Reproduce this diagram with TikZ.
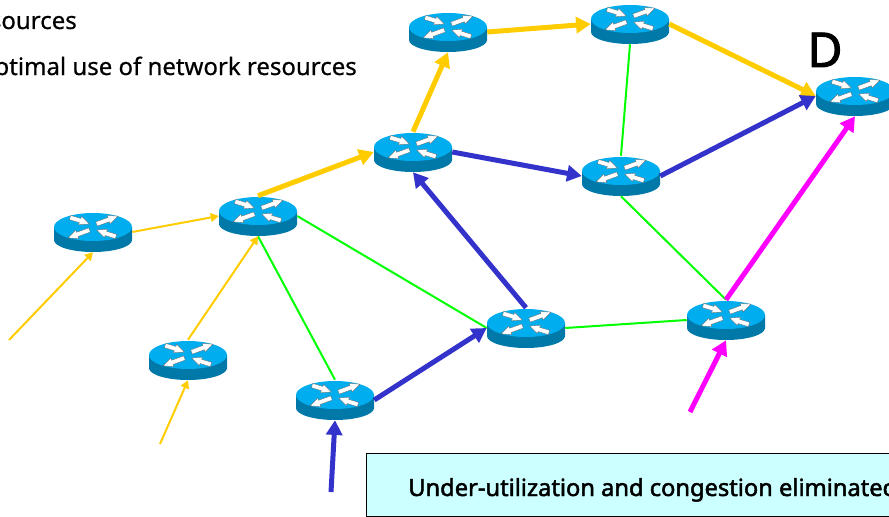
\documentclass[tikz,border=0pt]{standalone}
\usepackage{fontspec}
\setmainfont{Noto Sans}
\newfontfamily\plainfont[FakeBold=0.6]{Noto Sans}
\newfontfamily\boldfont[FakeBold=2]{Noto Sans}
\usetikzlibrary{arrows.meta}

\tikzset{
  router/.style={minimum width=58.5pt, minimum height=30pt, inner sep=0pt},
  thinflow/.style={line width=1.5pt, -{Triangle[length=6pt,width=6.5pt]}},
  thickflow/.style={line width=3.75pt, -{Triangle[length=11pt,width=12pt]}},
  link/.style={green, line width=1.5pt},
  routerarrow/.style={fill=white, draw=black!60, line width=0.25pt},
  routerpic/.pic={
    % body first, the lid goes on top
    \fill[routerside] (-39,-5) -- (-39,8) arc[start angle=180, end angle=0, x radius=39, y radius=12] -- (39,-5) -- cycle;
    \fill[routertop] (0,-5) ellipse[x radius=39, y radius=14];
    % two arrows point out, two point in
    \foreach \sx/\sy in {1/-1,-1/1} {
      \path[routerarrow, shift={(0,-5)}, xscale=\sx, yscale=\sy] (4.25,0.9) -- (16.45,5.3) -- (17.2,3.2) -- (25,10.8) -- (14.2,11.6) -- (14.95,9.5) -- (2.75,5.1) -- cycle;
    }
    \foreach \sx/\sy in {1/1,-1/-1} {
      \path[routerarrow, shift={(0,-5)}, xscale=\sx, yscale=\sy] (3.5,3) -- (14.4,2.2) -- (13.65,4.3) -- (23.75,7.4) -- (22.25,11.6) -- (12.15,8.5) -- (11.4,10.6) -- cycle;
    }
  }
}
\definecolor{routertop}{RGB}{0,174,239}
\definecolor{routerside}{RGB}{0,121,168}
\definecolor{flowyellow}{RGB}{255,204,0}
\definecolor{flowblue}{RGB}{51,51,204}
\definecolor{flowpink}{RGB}{255,0,255}
\definecolor{boxfill}{RGB}{204,255,255}

\begin{document}
\begin{tikzpicture}[x=0.75pt, y=-0.75pt]

\useasboundingbox (0,0) rectangle (889,517);
\clip (0,0) rectangle (889,517);

\foreach \name/\pos in {a/{93,232}, b/{258,216}, c/{188,360}, e/{335,400}, f/{413,152},
    g/{448,32}, h/{630,24}, i/{621,176}, j/{526,328}, k/{726,320}, d/{855,96}} {
  \node[router] (\name) at (\pos) {};
  \pic at (\name) {routerpic};
}

% free ends of the incoming flows
\coordinate (ina) at (9,340);
\coordinate (inc) at (160,444);
\coordinate (ine) at (331,492);
\coordinate (ink) at (690,412);

\draw[link] (b.south) -- (e.north);
\draw[link] (b.east) -- (j.west);
\draw[link] (j.east) -- (k.west);
\draw[link] (i.south) -- (k.north);
\draw[link] (h.south) -- (i.north);

\draw[thinflow, flowyellow] (ina) -- (a.south);
\draw[thinflow, flowyellow] (a.east) -- (b.west);
\draw[thinflow, flowyellow] (c.north) -- (b.south);
\draw[thinflow, flowyellow] (inc) -- (c.south);

\draw[thickflow, flowyellow] (b.north) -- (f.west);
\draw[thickflow, flowyellow] (f.north) -- (g.south);
\draw[thickflow, flowyellow] (g.east) -- (h.west);
\draw[thickflow, flowyellow] (h.east) -- (d.west);

\draw[thickflow, flowblue] (ine) -- (e.south);
\draw[thickflow, flowblue] (e.east) -- (j.west);
\draw[thickflow, flowblue] (j.north) -- (f.south);
\draw[thickflow, flowblue] (f.east) -- (i.west);
\draw[thickflow, flowblue] (i.east) -- (d.west);

\draw[thickflow, flowpink] (ink) -- (k.south);
\draw[thickflow, flowpink] (k.north) -- (d.south);

\node[anchor=base east, font=\plainfont\fontsize{18}{20}\selectfont, inner sep=0pt] (line1) at (77,29) {sources};
\node[anchor=base east, font=\plainfont\fontsize{18}{20}\selectfont, inner sep=0pt] (line2) at (357,75) {optimal use of network resources};
\node[anchor=base, font=\boldfont\fontsize{36}{40}\selectfont, inner sep=0pt] (dest) at (825,67) {D};

\node[draw=black, fill=boxfill, line width=0.75pt, anchor=north west, minimum width=540pt, minimum height=47.6pt, inner sep=0pt] (box) at (365.5,452.5) {};
\node[anchor=base west, font=\boldfont\fontsize{17.75}{20}\selectfont, inner sep=0pt] (boxtext) at (408,496) {Under-utilization and congestion eliminated};

\end{tikzpicture}
\end{document}
